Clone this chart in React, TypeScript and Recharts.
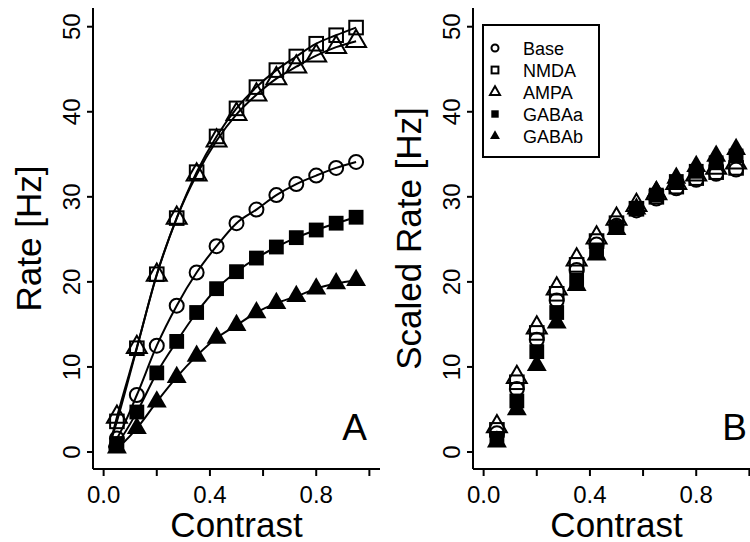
import React from 'react';
import { ComposedChart, Line, XAxis, YAxis } from 'recharts';

// contrast levels of the stimulus
const contrast = [0.05, 0.125, 0.2, 0.275, 0.35, 0.425, 0.5, 0.575, 0.65, 0.725, 0.8, 0.875, 0.95];

// panel A: firing rate [Hz]
const baseA = [1.6, 6.7, 12.5, 17.2, 21.1, 24.2, 26.9, 28.5, 30.2, 31.5, 32.5, 33.4, 34.1];
const nmdaA = [3.6, 12.2, 20.9, 27.5, 32.9, 37.1, 40.4, 42.9, 44.9, 46.5, 48.0, 49.0, 49.9];
const ampaA = [4.1, 12.3, 20.8, 27.5, 32.6, 36.6, 39.7, 42.0, 43.9, 45.3, 46.6, 47.6, 48.3];
const gabaaA = [1.0, 4.7, 9.3, 13.0, 16.4, 19.2, 21.2, 22.8, 24.1, 25.2, 26.1, 26.9, 27.6];
const gababA = [0.5, 2.8, 5.9, 8.8, 11.3, 13.4, 14.9, 16.4, 17.5, 18.3, 19.2, 19.8, 20.2];

// fitted curves in panel A start a little before the first point
const fitStartContrast = 0.02;
const fitStart = [0.3, 0.5, 0.5, 0.2, 0.1]; // base, nmda, ampa, gabaa, gabab

// panel B: scaled rate [Hz]
const baseB = [2.2, 7.4, 13.2, 17.8, 21.4, 24.4, 26.6, 28.4, 29.8, 31.0, 32.0, 32.7, 33.2];
const nmdaB = [2.6, 8.2, 14.0, 18.6, 22.0, 24.8, 26.9, 28.6, 30.0, 31.2, 32.2, 32.9, 33.4];
const ampaB = [3.0, 8.8, 14.6, 19.2, 22.6, 25.2, 27.4, 29.0, 30.4, 31.6, 32.6, 33.4, 34.0];
const gabaaB = [1.6, 6.0, 11.8, 16.4, 20.2, 23.6, 26.4, 28.6, 30.2, 31.8, 33.0, 34.0, 34.8];
const gababB = [1.2, 5.0, 10.2, 15.2, 19.6, 23.2, 26.2, 28.6, 30.6, 32.2, 33.6, 34.8, 35.6];

const xTicks = [0, 0.2, 0.4, 0.6, 0.8, 1.0];
const xLabelled = [0, 0.4, 0.8];
const yTicks = [0, 10, 20, 30, 40, 50];

const seriesNames = ['Base', 'NMDA', 'AMPA', 'GABAa', 'GABAb'];
const seriesKeys = ['base', 'nmda', 'ampa', 'gabaa', 'gabab'];
const shapes = ['circle', 'square', 'triangle', 'fsquare', 'ftriangle'];

const rowsA = contrast.map((c, i) => ({
  c, base: baseA[i], nmda: nmdaA[i], ampa: ampaA[i], gabaa: gabaaA[i], gabab: gababA[i],
}));
const fitRows = [
  { c: fitStartContrast, base: fitStart[0], nmda: fitStart[1], ampa: fitStart[2], gabaa: fitStart[3], gabab: fitStart[4] },
  ...rowsA,
];
const rowsB = contrast.map((c, i) => ({
  c, base: baseB[i], nmda: nmdaB[i], ampa: ampaB[i], gabaa: gabaaB[i], gabab: gababB[i],
}));

const FONT = '"Liberation Sans", Arial, Helvetica, sans-serif';

const Marker = ({ cx, cy, shape, s = 1 }: any) => {
  if (cx == null || cy == null) return null;
  const sw = 2 * (s < 1 ? 1 : 1);
  switch (shape) {
    case 'circle':
      return <circle cx={cx} cy={cy} r={7 * s} fill="none" stroke="#000" strokeWidth={sw} />;
    case 'square': {
      const h = 6.8 * s;
      return <rect x={cx - h} y={cy - h} width={2 * h} height={2 * h} fill="none" stroke="#000" strokeWidth={sw} />;
    }
    case 'fsquare': {
      const h = 7.4 * s;
      return <rect x={cx - h} y={cy - h} width={2 * h} height={2 * h} fill="#000" stroke="none" />;
    }
    case 'triangle':
    case 'ftriangle': {
      const r = 11.5 * s;
      const pts = `${cx},${cy - r} ${cx + 0.866 * r},${cy + r / 2} ${cx - 0.866 * r},${cy + r / 2}`;
      return shape === 'triangle'
        ? <polygon points={pts} fill="none" stroke="#000" strokeWidth={sw} />
        : <polygon points={pts} fill="#000" stroke="none" />;
    }
  }
  return null;
};

const XTick = ({ x, y, payload }: any) => {
  if (!xLabelled.some((v) => Math.abs(v - payload.value) < 1e-9)) return null;
  return (
    <text x={x} y={y + 27} textAnchor="middle" fontSize={24} fontFamily={FONT} fill="#000">
      {payload.value.toFixed(1)}
    </text>
  );
};

const YTick = ({ x, y, payload }: any) => {
  const bx = x - 7;
  return (
    <text x={bx} y={y} transform={`rotate(-90 ${bx} ${y})`} textAnchor="middle" fontSize={24} fontFamily={FONT} fill="#000">
      {payload.value}
    </text>
  );
};

const axisStyle = { stroke: '#000', strokeWidth: 2 };

const Panel = ({ rows, withFits, yTitle, letter }: any) => {
  const xTitle = (p: any) => {
    const vb = p.viewBox;
    return (
      <g>
        <text x={vb.x + vb.width / 2} y={vb.y + 68} textAnchor="middle" fontSize={35} fontFamily={FONT} fill="#000">
          Contrast
        </text>
        <text x={vb.x + vb.width - 13} y={vb.y - 29} textAnchor="end" fontSize={37} fontFamily={FONT} fill="#000">
          {letter}
        </text>
      </g>
    );
  };
  const yLabel = (p: any) => {
    const vb = p.viewBox;
    const bx = vb.x + 41;
    const cy = vb.y + vb.height / 2;
    return (
      <text x={bx} y={cy} transform={`rotate(-90 ${bx} ${cy})`} textAnchor="middle" fontSize={35} fontFamily={FONT} fill="#000">
        {yTitle}
      </text>
    );
  };
  return (
    <ComposedChart width={390} height={542} margin={{ top: 8, right: 10, bottom: 0, left: 0 }}>
      <XAxis
        xAxisId="b" dataKey="c" type="number" domain={[-0.04, 1.04]} ticks={xTicks} interval={0}
        tick={<XTick />} tickSize={7} tickMargin={0} height={73}
        axisLine={axisStyle} tickLine={axisStyle} allowDataOverflow label={xTitle}
      />
      <XAxis xAxisId="t" orientation="top" type="number" domain={[-0.04, 1.04]} height={0} tick={false} tickLine={false} axisLine={axisStyle} />
      <YAxis
        yAxisId="l" type="number" domain={[-2, 52.2]} ticks={yTicks} interval={0}
        tick={<YTick />} tickSize={6} tickMargin={0} width={93}
        axisLine={axisStyle} tickLine={axisStyle} allowDataOverflow label={yLabel}
      />
      <YAxis yAxisId="r" orientation="right" type="number" domain={[-2, 52.2]} width={0} tick={false} tickLine={false} axisLine={axisStyle} />
      {withFits && seriesKeys.map((k) => (
        <Line
          key={'fit-' + k} xAxisId="b" yAxisId="l" data={fitRows} dataKey={k} type="monotone"
          stroke="#000" strokeWidth={2} dot={false} activeDot={false} isAnimationActive={false}
        />
      ))}
      {seriesKeys.map((k, si) => (
        <Line
          key={'pts-' + k} xAxisId="b" yAxisId="l" data={rows} dataKey={k}
          stroke="none" activeDot={false} isAnimationActive={false}
          dot={(p: any) => <Marker key={k + p.index} cx={p.cx} cy={p.cy} shape={shapes[si]} />}
        />
      ))}
    </ComposedChart>
  );
};

const LegendBox = () => (
  <svg width={118} height={134} style={{ position: 'absolute', left: 482, top: 24 }}>
    <rect x={1} y={1} width={116} height={132} fill="#fff" stroke="#000" strokeWidth={2} />
    {seriesNames.map((n, i) => {
      const cy = 24 + i * 22;
      return (
        <g key={n}>
          <Marker cx={13} cy={cy} shape={shapes[i]} s={0.5} />
          <text x={41} y={cy + 6.5} fontSize={18} fontFamily={FONT} fill="#000">{n}</text>
        </g>
      );
    })}
  </svg>
);

export default function App() {
  return (
    <div style={{ position: 'absolute', left: 0, top: 0, width: 750, height: 542, overflow: 'hidden', background: '#fff' }}>
      <div style={{ position: 'absolute', left: 0, top: 0 }}>
        <Panel rows={rowsA} withFits yTitle="Rate [Hz]" letter="A" />
      </div>
      <div style={{ position: 'absolute', left: 380, top: 0 }}>
        <Panel rows={rowsB} withFits={false} yTitle="Scaled Rate [Hz]" letter="B" />
      </div>
      <LegendBox />
    </div>
  );
}
